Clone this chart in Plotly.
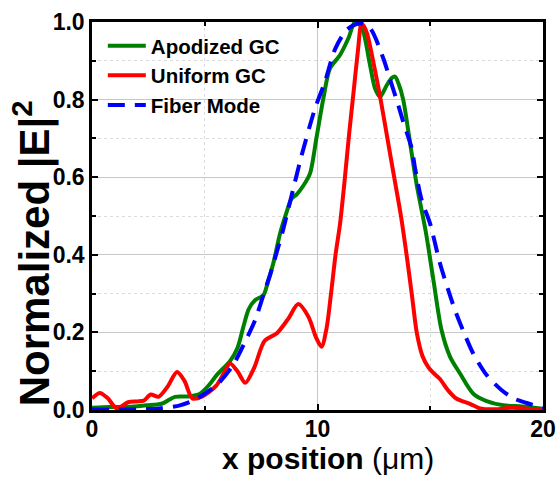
import plotly.graph_objects as go

# ---- data ----
apod_x = [0, 0.8, 1.6, 2.4, 3.09, 3.68, 4.27, 4.79, 5.2, 5.53, 6.12, 6.45, 6.71, 6.95, 7.23, 7.6,
          7.8, 8.04, 8.34, 8.63, 8.85, 9.08, 9.37, 9.67, 9.95, 10.26, 10.55, 11.0, 11.37, 11.66,
          11.85, 12.03, 12.33, 12.55, 12.77, 13.07, 13.3, 13.44, 13.6, 13.8, 14.1, 14.4, 14.8,
          15.14, 15.5, 15.88, 16.32, 16.91, 17.5, 18.24, 19.1, 20]
apod_y = [0.006, 0.008, 0.008, 0.012, 0.016, 0.034, 0.035, 0.042, 0.065, 0.09, 0.126, 0.16, 0.214,
          0.26, 0.283, 0.296, 0.33, 0.378, 0.455, 0.51, 0.545, 0.556, 0.578, 0.61, 0.70, 0.803,
          0.88, 0.915, 0.958, 1.0, 0.995, 0.975, 0.889, 0.829, 0.807, 0.837, 0.856, 0.859, 0.84,
          0.80, 0.69, 0.58, 0.46, 0.335, 0.206, 0.137, 0.094, 0.042, 0.023, 0.012, 0.009, 0.003]

unif_x = [0, 0.35, 0.7, 1.1, 1.6, 2.0, 2.3, 2.6, 2.95, 3.35, 3.77, 4.1, 4.45, 4.9, 5.5, 5.85,
          6.12, 6.45, 6.8, 7.2, 7.65, 8.2, 8.7, 9.15, 9.6, 9.95, 10.18, 10.4, 10.6, 10.8, 11.0,
          11.2, 11.4, 11.6, 11.8, 11.95, 12.05, 12.2, 12.5, 12.8, 13.1, 13.4, 13.7, 13.95, 14.2,
          14.4, 14.65, 14.92, 15.15, 15.43, 15.8, 16.17, 16.76, 17.2, 18.0, 18.6, 19.3, 20]
unif_y = [0.030, 0.044, 0.030, 0.004, 0.020, 0.022, 0.024, 0.040, 0.034, 0.060, 0.098, 0.075,
          0.030, 0.035, 0.062, 0.095, 0.120, 0.100, 0.070, 0.110, 0.178, 0.198, 0.235, 0.273,
          0.240, 0.185, 0.163, 0.21, 0.30, 0.40, 0.48, 0.59, 0.71, 0.82, 0.93, 0.995, 0.99, 0.97,
          0.89, 0.80, 0.70, 0.60, 0.50, 0.40, 0.29, 0.20, 0.14, 0.11, 0.095, 0.08, 0.05, 0.029,
          0.016, 0.004, 0.002, 0.006, 0.003, 0.001]

fiber_x = [0, 1, 2, 3, 3.9, 4.4, 4.79, 5.2, 5.6, 6.27, 6.78, 7.23, 7.6, 7.89, 8.26, 8.49, 8.78,
           9.0, 9.3, 9.89, 10.33, 10.78, 11.3, 11.88, 12.33, 12.92, 13.2, 13.58, 13.8, 14.18,
           14.32, 14.62, 14.99, 15.43, 15.8, 16.1, 16.54, 16.91, 17.5, 18.17, 18.7, 19.28, 20]
fiber_y = [0.001, 0.001, 0.002, 0.004, 0.012, 0.022, 0.034, 0.05, 0.068, 0.117, 0.175, 0.231,
           0.296, 0.347, 0.42, 0.468, 0.536, 0.588, 0.657, 0.777, 0.846, 0.93, 0.98, 0.997, 0.984,
           0.906, 0.855, 0.786, 0.743, 0.674, 0.625, 0.541, 0.481, 0.378, 0.309, 0.257, 0.193,
           0.145, 0.09, 0.051, 0.03, 0.018, 0.005]

names = ["Apodized GC", "Uniform GC", "Fiber Mode"]
y_ticks = [0.0, 0.2, 0.4, 0.6, 0.8, 1.0]
x_ticks = [0, 10, 20]

FONT = "Liberation Sans, Arial, sans-serif"

fig = go.Figure()
fig.add_trace(go.Scatter(x=apod_x, y=apod_y, mode="lines", name=names[0],
                         line=dict(color="#008000", width=4, shape="spline", smoothing=0.8)))
fig.add_trace(go.Scatter(x=unif_x, y=unif_y, mode="lines", name=names[1],
                         line=dict(color="#ff0000", width=4, shape="spline", smoothing=0.8)))
fig.add_trace(go.Scatter(x=fiber_x, y=fiber_y, mode="lines", name=names[2],
                         line=dict(color="#0000ff", width=4, shape="spline", smoothing=0.8,
                                   dash="17px,10px")))

axis_common = dict(
    showline=True, linecolor="black", linewidth=2.5, mirror="ticks",
    ticks="inside", ticklen=6, tickwidth=2, tickcolor="black",
    showgrid=True, gridcolor="#c8c8c8", gridwidth=1, zeroline=False,
    automargin=False,
    tickfont=dict(family=FONT, size=23, color="black", weight="bold"),
)

fig.update_xaxes(range=[0, 20], tickvals=x_ticks, ticktext=[str(v) for v in x_ticks],
                 ticklabelstandoff=-3,
                 minor=dict(dtick=5, tick0=0, ticks="inside", ticklen=4, tickwidth=2,
                            tickcolor="black", showgrid=True, gridcolor="#dcdcdc",
                            griddash="dot", gridwidth=1),
                 **axis_common)
fig.update_yaxes(range=[0, 1.0], tickvals=y_ticks, ticktext=[f"{v:.1f}" for v in y_ticks],
                 minor=dict(dtick=0.1, tick0=0, ticks="inside", ticklen=4, tickwidth=2,
                            tickcolor="black", showgrid=True, gridcolor="#dcdcdc",
                            griddash="dot", gridwidth=1),
                 **axis_common)

fig.update_layout(
    width=556, height=478,
    margin=dict(l=92, r=13, t=22, b=68, autoexpand=False),
    plot_bgcolor="white", paper_bgcolor="white",
    font=dict(family=FONT, color="black"),
    legend=dict(x=0.024, y=0.99, xanchor="left", yanchor="top",
                bgcolor="rgba(0,0,0,0)", itemwidth=38, tracegroupgap=0,
                font=dict(family=FONT, size=20.5, color="black", weight="bold")),
    showlegend=True,
    annotations=[
        dict(text="<b>x position</b> (μm)", xref="paper", yref="paper",
             x=0.523, y=-0.125, xanchor="center", yanchor="middle", showarrow=False,
             font=dict(family=FONT, size=30, color="black")),
        dict(text="<b>Normalized |E|<sup>2</sup></b>", xref="paper", yref="paper",
             x=-0.132, y=0.405, xanchor="center", yanchor="middle", showarrow=False,
             textangle=-90, font=dict(family=FONT, size=42, color="black")),
    ],
)

fig.write_html("out.html")
